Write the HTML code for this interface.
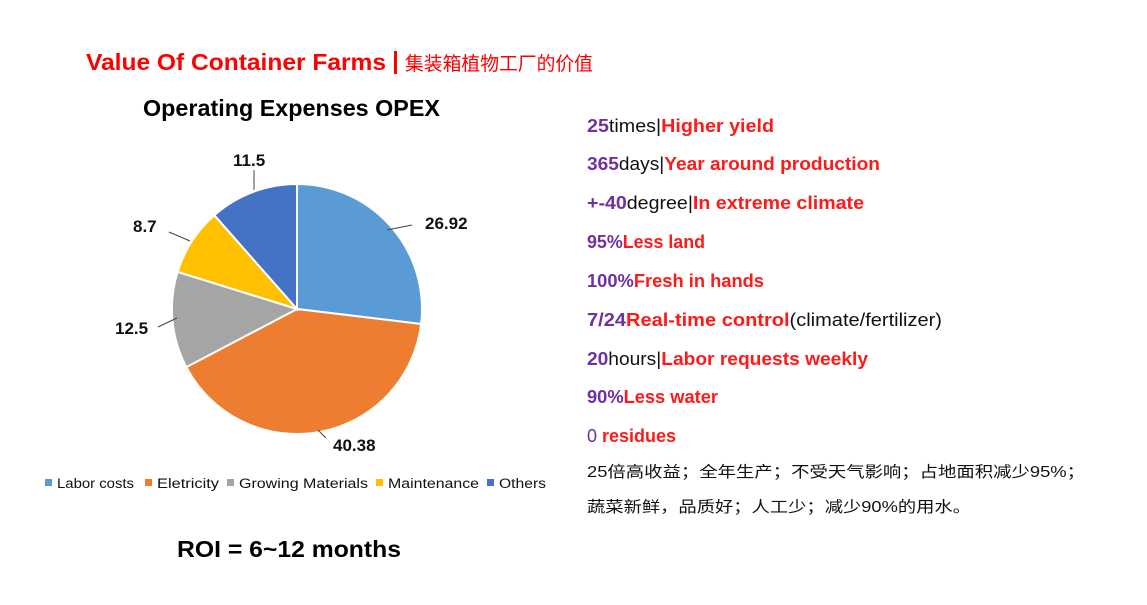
<!DOCTYPE html>
<html><head><meta charset="utf-8"><style>
html,body{margin:0;padding:0;background:#fff;width:1147px;height:605px;overflow:hidden}
text{font-family:"Liberation Sans","Noto Sans CJK SC",sans-serif}
.b{font-weight:bold}
.p{fill:#7030A0;font-weight:bold}
.r{fill:#FF1A1A;font-weight:bold}
.k{fill:#111}
</style></head><body>
<svg width="1147" height="605" viewBox="0 0 1147 605" xmlns="http://www.w3.org/2000/svg">
<text x="86" y="70" font-size="23" class="b" fill="#FF0000" textLength="300" lengthAdjust="spacingAndGlyphs">Value Of  Container Farms</text>
<rect x="394" y="51" width="3" height="23" fill="#FF0000"/>
<text x="405" y="70" font-size="19" fill="#FF0000" textLength="188" lengthAdjust="spacingAndGlyphs">集装箱植物工厂的价值</text>
<text x="143" y="116" font-size="23" class="b" fill="#000" textLength="297" lengthAdjust="spacingAndGlyphs">Operating Expenses OPEX</text>

<g stroke="#fff" stroke-width="2">
<path d="M297,309 L297,184 A125,125 0 0 1 421.1,324 Z" fill="#5B9BD5"/>
<path d="M297,309 L421.1,324 A125,125 0 0 1 186.3,367.1 Z" fill="#ED7D31"/>
<path d="M297,309 L186.3,367.1 A125,125 0 0 1 177.6,271.8 Z" fill="#A5A5A5"/>
<path d="M297,309 L177.6,271.8 A125,125 0 0 1 214.3,215.2 Z" fill="#FFC000"/>
<path d="M297,309 L214.3,215.2 A125,125 0 0 1 297,184 Z" fill="#4472C4"/>
</g>
<g stroke="#444" stroke-width="1" fill="none">
<path d="M387,230 L412,225"/>
<path d="M318,430 L326,438"/>
<path d="M158,327 L177,318"/>
<path d="M169,232 L190,241"/>
<path d="M254,170 L254,190"/>
</g>
<g font-size="17" class="b" fill="#111">
<text x="425" y="229">26.92</text>
<text x="333" y="451">40.38</text>
<text x="115" y="334">12.5</text>
<text x="133" y="232">8.7</text>
<text x="233" y="166">11.5</text>
</g>
<g font-size="13.5" fill="#111">
<rect x="45" y="479" width="7" height="7" fill="#5B9BD5"/><text x="57" y="488" textLength="77" lengthAdjust="spacingAndGlyphs">Labor costs</text>
<rect x="145" y="479" width="7" height="7" fill="#ED7D31"/><text x="157" y="488" textLength="62" lengthAdjust="spacingAndGlyphs">Eletricity</text>
<rect x="227" y="479" width="7" height="7" fill="#A5A5A5"/><text x="239" y="488" textLength="129" lengthAdjust="spacingAndGlyphs">Growing Materials</text>
<rect x="376" y="479" width="7" height="7" fill="#FFC000"/><text x="388" y="488" textLength="91" lengthAdjust="spacingAndGlyphs">Maintenance</text>
<rect x="487" y="479" width="7" height="7" fill="#4472C4"/><text x="499" y="488" textLength="47" lengthAdjust="spacingAndGlyphs">Others</text>
</g>
<text x="177" y="557" font-size="23" class="b" fill="#000" textLength="224" lengthAdjust="spacingAndGlyphs">ROI = 6~12 months</text>

<g font-size="18.5">
<text x="587" y="132" textLength="187" lengthAdjust="spacingAndGlyphs"><tspan class="p">25</tspan><tspan class="k">times|</tspan><tspan class="r">Higher yield</tspan></text>
<text x="587" y="170" textLength="293" lengthAdjust="spacingAndGlyphs"><tspan class="p">365</tspan><tspan class="k">days|</tspan><tspan class="r">Year around production</tspan></text>
<text x="587" y="209" textLength="277" lengthAdjust="spacingAndGlyphs"><tspan class="p">+-40</tspan><tspan class="k">degree|</tspan><tspan class="r">In extreme climate</tspan></text>
<text x="587" y="248" textLength="118" lengthAdjust="spacingAndGlyphs"><tspan class="p">95%</tspan><tspan class="r">Less land</tspan></text>
<text x="587" y="287" textLength="177" lengthAdjust="spacingAndGlyphs"><tspan class="p">100%</tspan><tspan class="r">Fresh in hands</tspan></text>
<text x="587" y="326" textLength="355" lengthAdjust="spacingAndGlyphs"><tspan class="p">7/24</tspan><tspan class="r">Real-time control</tspan><tspan class="k">(climate/fertilizer)</tspan></text>
<text x="587" y="365" textLength="281" lengthAdjust="spacingAndGlyphs"><tspan class="p">20</tspan><tspan class="k">hours|</tspan><tspan class="r">Labor requests weekly</tspan></text>
<text x="587" y="403" textLength="131" lengthAdjust="spacingAndGlyphs"><tspan class="p">90%</tspan><tspan class="r">Less water</tspan></text>
<text x="587" y="442" textLength="89" lengthAdjust="spacingAndGlyphs"><tspan class="p" style="font-weight:normal">0 </tspan><tspan class="r">residues</tspan></text>
</g>
<text x="587" y="477" font-size="15.5" fill="#111" textLength="498" lengthAdjust="spacingAndGlyphs">25倍高收益；全年生产；不受天气影响；占地面积减少95%；</text>
<text x="587" y="512" font-size="15.5" fill="#111" textLength="384" lengthAdjust="spacingAndGlyphs">蔬菜新鲜，品质好；人工少；减少90%的用水。</text>
</svg>
</body></html>
